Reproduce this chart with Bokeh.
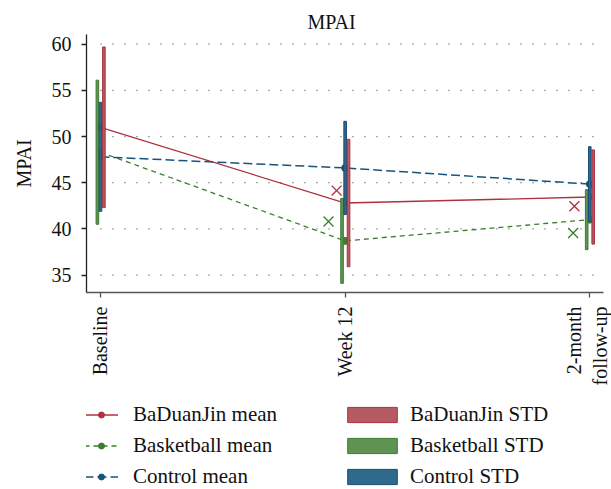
import math
from bokeh.plotting import figure
from bokeh.layouts import column
from bokeh.models import FixedTicker, Range1d, Legend, LegendItem
from bokeh.embed import file_html
from bokeh.resources import INLINE

# ---------------- data ----------------
timepoints = ["Baseline", "Week 12", "2-month\nfollow-up"]
groups = ["BaDuanJin", "Basketball", "Control"]
bdj_mean = [51.0, 42.8, 43.45]
bb_mean = [48.3, 38.7, 41.0]
ctl_mean = [47.8, 46.6, 44.85]
bdj_std = [8.7, 6.9, 5.1]
bb_std = [7.8, 4.6, 3.25]
ctl_std = [5.9, 5.05, 4.05]
cross_timepoints = ["Week 12", "2-month\nfollow-up"]
bdj_cross = [44.15, 42.45]
bb_cross = [40.8, 39.55]
y_ticks = [35, 40, 45, 50, 55, 60]

# ---------------- styles ----------------
FONT = "Liberation Serif"
X_START, X_END = -0.0572, 2.056
Y_START, Y_END = 33.11, 61.05
RED_LINE, GREEN_LINE, BLUE_LINE = "#b0303e", "#3b7d2d", "#17537b"
RED_FILL, GREEN_FILL, BLUE_FILL = "#b65a63", "#5f9353", "#2d6a8b"
RED_EDGE, GREEN_EDGE, BLUE_EDGE = "#a8323f", "#3d7a30", "#154d75"
BAR_W = 0.0106
BAR_DX = {"BaDuanJin": 0.0139, "Basketball": -0.0127, "Control": 0.0}
CROSS_DX_BDJ = [-0.035, -0.063]
CROSS_DX_BB = [-0.068, -0.068]
GREEN_DASH, BLUE_DASH = "5 4", "9 4"
MARK = 7

xi = list(range(len(timepoints)))

p = figure(width=611, height=395, output_backend="svg", toolbar_location=None,
           x_range=Range1d(X_START, X_END), y_range=Range1d(Y_START, Y_END),
           min_border_left=86, min_border_right=8, min_border_top=34,
           min_border_bottom=103)
p.outline_line_color = None
p.xgrid.visible = False
p.ygrid.visible = False

# title
p.title.text = "MPAI"
p.title.text_font = FONT
p.title.text_font_size = "20px"
p.title.text_font_style = "normal"
p.title.text_color = "#111111"
p.title.align = "left"
p.title.offset = 221
p.title.standoff = 4

# dotted horizontal grid from Baseline to right edge
p.segment(x0=[xi[0]] * len(y_ticks), x1=[X_END] * len(y_ticks), y0=y_ticks, y1=y_ticks,
          line_color="#555555", line_width=1.3, line_dash="1 11")

# mean lines
p.line(xi, bdj_mean, line_color=RED_LINE, line_width=1.3)
p.line(xi, bb_mean, line_color=GREEN_LINE, line_width=1.3, line_dash=GREEN_DASH)
p.line(xi, ctl_mean, line_color=BLUE_LINE, line_width=1.5, line_dash=BLUE_DASH)
p.scatter(xi, bdj_mean, marker="circle", size=MARK, fill_color=RED_LINE, line_color=RED_LINE)
p.scatter(xi, bb_mean, marker="circle", size=MARK, fill_color=GREEN_LINE, line_color=GREEN_LINE)
p.scatter(xi, ctl_mean, marker="circle", size=MARK, fill_color=BLUE_LINE, line_color=BLUE_LINE)

# crosses
cx = [timepoints.index(t) for t in cross_timepoints]
p.scatter([c + d for c, d in zip(cx, CROSS_DX_BDJ)], bdj_cross, marker="x", size=14,
          line_color=RED_LINE, line_width=1.3)
p.scatter([c + d for c, d in zip(cx, CROSS_DX_BB)], bb_cross, marker="x", size=14,
          line_color=GREEN_LINE, line_width=1.3)

# std bars
def bars(means, stds, dx, fill, edge):
    return p.vbar(x=[i + dx for i in xi], width=BAR_W,
                  bottom=[m - s for m, s in zip(means, stds)],
                  top=[m + s for m, s in zip(means, stds)],
                  fill_color=fill, line_color=edge, line_width=1)

bars(bb_mean, bb_std, BAR_DX["Basketball"], GREEN_FILL, GREEN_EDGE)
bars(ctl_mean, ctl_std, BAR_DX["Control"], BLUE_FILL, BLUE_EDGE)
bars(bdj_mean, bdj_std, BAR_DX["BaDuanJin"], RED_FILL, RED_EDGE)

# axes
p.xaxis.ticker = FixedTicker(ticks=xi)
p.xaxis.major_label_overrides = {i: t for i, t in zip(xi, timepoints)}
p.xaxis.major_label_orientation = math.pi / 2
p.yaxis.ticker = FixedTicker(ticks=y_ticks)
p.yaxis.axis_label = "MPAI"
for ax in (p.xaxis[0], p.yaxis[0]):
    ax.major_label_text_font = FONT
    ax.major_label_text_font_size = "20px"
    ax.major_label_text_color = "#111111"
    ax.axis_label_text_font = FONT
    ax.axis_label_text_font_size = "20px"
    ax.axis_label_text_font_style = "normal"
    ax.axis_label_text_color = "#111111"
    ax.minor_tick_line_color = None
    ax.major_tick_in = 0
    ax.major_tick_out = 5
    ax.axis_line_width = 1.3
    ax.major_tick_line_width = 1.3
p.yaxis.axis_line_color = "#222222"
p.yaxis.major_tick_line_color = "#222222"
p.xaxis.axis_line_color = "#555555"
p.xaxis.major_tick_line_color = "#555555"
p.yaxis.major_label_standoff = 10
p.yaxis.axis_label_standoff = 14
p.xaxis.major_label_standoff = 9

# ---------------- legend strip ----------------
q = figure(width=611, height=94, output_backend="svg", toolbar_location=None,
           x_range=Range1d(0, 1), y_range=Range1d(0, 1),
           x_axis_type=None, y_axis_type=None,
           min_border_left=0, min_border_right=0, min_border_top=0, min_border_bottom=0)
q.outline_line_color = None
q.xgrid.visible = False
q.ygrid.visible = False

OFF = [-10]  # legend-only renderers sit outside the visible range
line_styles = [(RED_LINE, None, 1.3), (GREEN_LINE, GREEN_DASH, 1.3), (BLUE_LINE, BLUE_DASH, 1.5)]
bar_styles = [(RED_FILL, RED_EDGE), (GREEN_FILL, GREEN_EDGE), (BLUE_FILL, BLUE_EDGE)]
mean_items, std_items = [], []
for g, (lc, dash, lw), (fc, ec) in zip(groups, line_styles, bar_styles):
    kw = dict(line_color=lc, line_width=lw)
    if dash:
        kw["line_dash"] = dash
    rl = q.line(x=OFF, y=OFF, **kw)
    rp = q.scatter(x=OFF, y=OFF, marker="circle", fill_color=lc, line_color=lc)
    rb = q.vbar(x=OFF, width=0.1, bottom=OFF, top=OFF, fill_color=fc, line_color=ec,
                line_width=1)
    mean_items.append(LegendItem(label=f"{g} mean", renderers=[rl, rp]))
    std_items.append(LegendItem(label=f"{g} STD", renderers=[rb]))

common = dict(orientation="vertical", padding=0, margin=0, border_line_color=None,
              background_fill_alpha=0, label_text_font=FONT, label_text_font_size="21px",
              label_text_color="#111111", spacing=6, label_height=24)
leg1 = Legend(items=mean_items, location=(-2, 0), glyph_width=34, glyph_height=15,
              label_standoff=15, **common)
leg2 = Legend(items=std_items, location=(255, 0), glyph_width=62, glyph_height=19,
              label_standoff=7, **common)
q.add_layout(leg1)
q.add_layout(leg2)

layout = column(p, q)
open("out.html", "w").write(file_html(layout, INLINE))
